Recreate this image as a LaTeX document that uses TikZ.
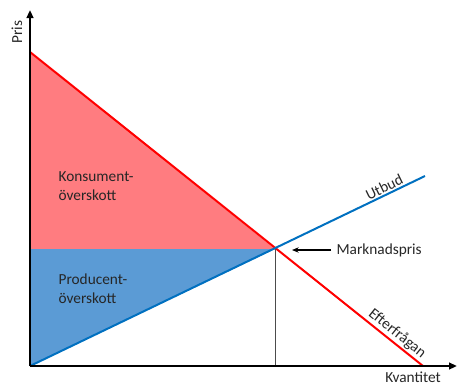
\documentclass[tikz,border=0pt]{standalone}
\usepackage{fontspec}
\setmainfont{Carlito}
\usetikzlibrary{arrows.meta}
\definecolor{redfill}{HTML}{FF7C80}
\definecolor{bluefill}{HTML}{5B9BD5}
\definecolor{redline}{HTML}{FF0000}
\definecolor{blueline}{HTML}{0070C0}
\definecolor{txt}{HTML}{262626}
\tikzset{
  lbl/.style={font=\fontsize{11.5}{14.2}\selectfont, text=txt, inner sep=1pt},
  axis/.style={line width=1.5pt, -{Triangle[length=6pt,width=5pt]}},
}
\begin{document}
\begin{tikzpicture}[x=0.75pt,y=-0.75pt]
\useasboundingbox (0,0) rectangle (457,387);
\coordinate (O) at (30,366);
\coordinate (Ytop) at (30,10);
\coordinate (Xend) at (457,366);
\coordinate (D0) at (30,52);
\coordinate (E) at (275,249);
\coordinate (D1) at (423,366);
\coordinate (S1) at (425,176);
\coordinate (Ey) at (30,249);
\coordinate (Eb) at (275,366);
% surpluses
\fill[redfill] (D0) -- (E) -- (Ey) -- cycle;
\fill[bluefill] (Ey) -- (E) -- (O) -- cycle;
% vertical line
\draw[line width=0.6pt, black!70] (E) -- (Eb);
% curves
\draw[redline, line width=1.5pt] (D0) -- (D1)
  node[lbl, pos=0.92, sloped, above] (ef) {Efterfrågan};
\draw[blueline, line width=1.5pt] (O) -- (S1)
  node[lbl, pos=0.905, sloped, above] (ut) {Utbud};
% axes
\draw[axis] (O) -- (Ytop);
\draw[axis] (O) -- (Xend);
\node[lbl, rotate=90] (pris) at (17,32) {Pris};
\node[lbl] (kv) at (413,377) {Kvantitet};
% labels
\node[lbl, anchor=west] (mp) at (335,250) {Marknadspris};
\draw[line width=0.8pt, -{Stealth[length=5pt,width=4pt]}] (mp.west) ++(-4,0) coordinate (mpa) (mpa) -- (292,250) coordinate (mpb);
\node[lbl, anchor=north west, align=left] (ko) at (57,170) {Konsument-\\överskott};
\node[lbl, anchor=north west, align=left] (pr) at (57,272) {Producent-\\överskott};
\end{tikzpicture}
\end{document}
